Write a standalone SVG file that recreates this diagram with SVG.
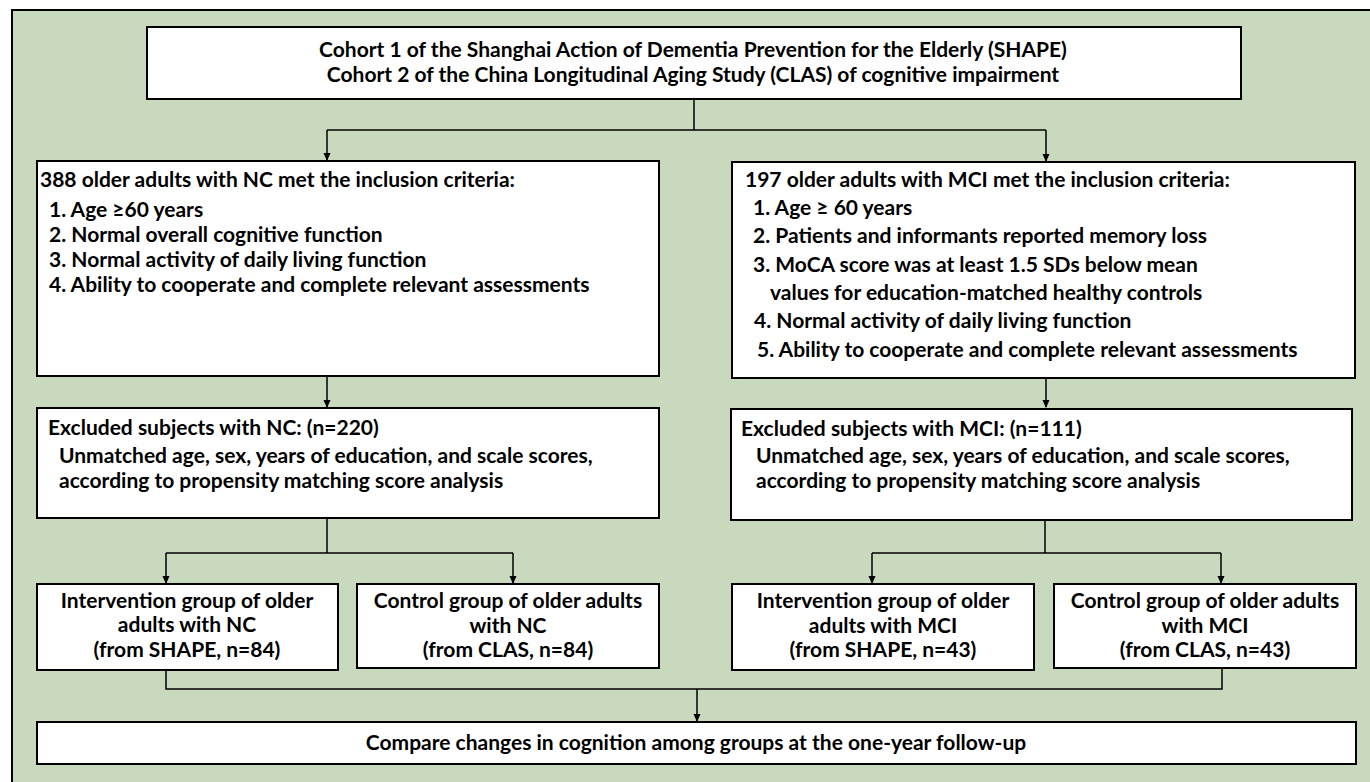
<svg xmlns="http://www.w3.org/2000/svg" width="1370" height="782" viewBox="0 0 1370 782">
<style>
.bg{fill:#c9d9bd;stroke:#000;stroke-width:2}
.box{fill:#fff;stroke:#000;stroke-width:2}
.t{font-family:Lato,"Liberation Sans",sans-serif;font-weight:bold;font-size:21px;fill:#000}
.c{text-anchor:middle}
.ln{fill:none;stroke:#000;stroke-width:1.5}
</style>
<defs>
<marker id="ah" markerWidth="8" markerHeight="8" refX="7" refY="4" orient="auto" markerUnits="userSpaceOnUse">
<path d="M0,0.5 L8,4 L0,7.5 Z" fill="#000"/>
</marker>
</defs>
<rect class="bg" x="12" y="10" width="1370" height="800"/>
<g id="connectors">
<path class="ln" d="M694,99 V130"/>
<path class="ln" d="M327,130 H1046"/>
<path class="ln" d="M327,130 V160" marker-end="url(#ah)"/>
<path class="ln" d="M1046,130 V161" marker-end="url(#ah)"/>
<path class="ln" d="M327,376 V407" marker-end="url(#ah)"/>
<path class="ln" d="M1046,378 V407" marker-end="url(#ah)"/>
<path class="ln" d="M327,518 V553"/>
<path class="ln" d="M166,553 H513"/>
<path class="ln" d="M166,553 V583" marker-end="url(#ah)"/>
<path class="ln" d="M513,553 V583" marker-end="url(#ah)"/>
<path class="ln" d="M1045,520 V553"/>
<path class="ln" d="M872,553 H1221"/>
<path class="ln" d="M872,553 V583" marker-end="url(#ah)"/>
<path class="ln" d="M1221,553 V583" marker-end="url(#ah)"/>
<path class="ln" d="M166,670 V689 H1222 V668"/>
<path class="ln" d="M697,689 V721" marker-end="url(#ah)"/>
</g>
<g id="cohorts">
<rect class="box" x="147" y="27" width="1094" height="72"/>
<text class="t c" x="693" y="57">Cohort 1 of the Shanghai Action of Dementia Prevention for the Elderly (SHAPE)</text>
<text class="t c" x="693" y="82">Cohort 2 of the China Longitudinal Aging Study (CLAS) of cognitive impairment</text>
</g>
<g id="nc-inclusion">
<rect class="box" x="37" y="161" width="622" height="215"/>
<text class="t" x="40" y="187">388 older adults with NC met the inclusion criteria:</text>
<text class="t" x="49" y="217">1. Age ≥60 years</text>
<text class="t" x="49" y="242">2. Normal overall cognitive function</text>
<text class="t" x="49" y="267">3. Normal activity of daily living function</text>
<text class="t" x="49" y="292">4. Ability to cooperate and complete relevant assessments</text>
</g>
<g id="mci-inclusion">
<rect class="box" x="732" y="162" width="623" height="216"/>
<text class="t" x="745" y="187">197 older adults with MCI met the inclusion criteria:</text>
<text class="t" x="753" y="215">1. Age ≥ 60 years</text>
<text class="t" x="753" y="243">2. Patients and informants reported memory loss</text>
<text class="t" x="753" y="272">3. MoCA score was at least 1.5 SDs below mean</text>
<text class="t" x="770" y="300">values for education-matched healthy controls</text>
<text class="t" x="754" y="328">4. Normal activity of daily living function</text>
<text class="t" x="757" y="357">5. Ability to cooperate and complete relevant assessments</text>
</g>
<g id="nc-excluded">
<rect class="box" x="37" y="408" width="622" height="110"/>
<text class="t" x="48" y="435">Excluded subjects with NC: (n=220)</text>
<text class="t" x="59" y="463">Unmatched age, sex, years of education, and scale scores,</text>
<text class="t" x="59" y="488">according to propensity matching score analysis</text>
</g>
<g id="mci-excluded">
<rect class="box" x="731" y="409" width="621" height="111"/>
<text class="t" x="741" y="436">Excluded subjects with MCI: (n=111)</text>
<text class="t" x="756" y="463">Unmatched age, sex, years of education, and scale scores,</text>
<text class="t" x="756" y="488">according to propensity matching score analysis</text>
</g>
<g id="nc-intervention">
<rect class="box" x="37" y="584" width="301" height="86"/>
<text class="t c" x="187" y="608">Intervention group of older</text>
<text class="t c" x="187" y="632">adults with NC</text>
<text class="t c" x="187" y="657">(from SHAPE, n=84)</text>
</g>
<g id="nc-control">
<rect class="box" x="357" y="584" width="302" height="84"/>
<text class="t c" x="508" y="608">Control group of older adults</text>
<text class="t c" x="508" y="633">with NC</text>
<text class="t c" x="508" y="657">(from CLAS, n=84)</text>
</g>
<g id="mci-intervention">
<rect class="box" x="732" y="584" width="302" height="86"/>
<text class="t c" x="883" y="608">Intervention group of older</text>
<text class="t c" x="883" y="633">adults with MCI</text>
<text class="t c" x="883" y="657">(from SHAPE, n=43)</text>
</g>
<g id="mci-control">
<rect class="box" x="1054" y="584" width="302" height="84"/>
<text class="t c" x="1205" y="608">Control group of older adults</text>
<text class="t c" x="1205" y="633">with MCI</text>
<text class="t c" x="1205" y="657">(from CLAS, n=43)</text>
</g>
<g id="compare">
<rect class="box" x="37" y="722" width="1319" height="42"/>
<text class="t c" x="696" y="750">Compare changes in cognition among groups at the one-year follow-up</text>
</g>
</svg>
